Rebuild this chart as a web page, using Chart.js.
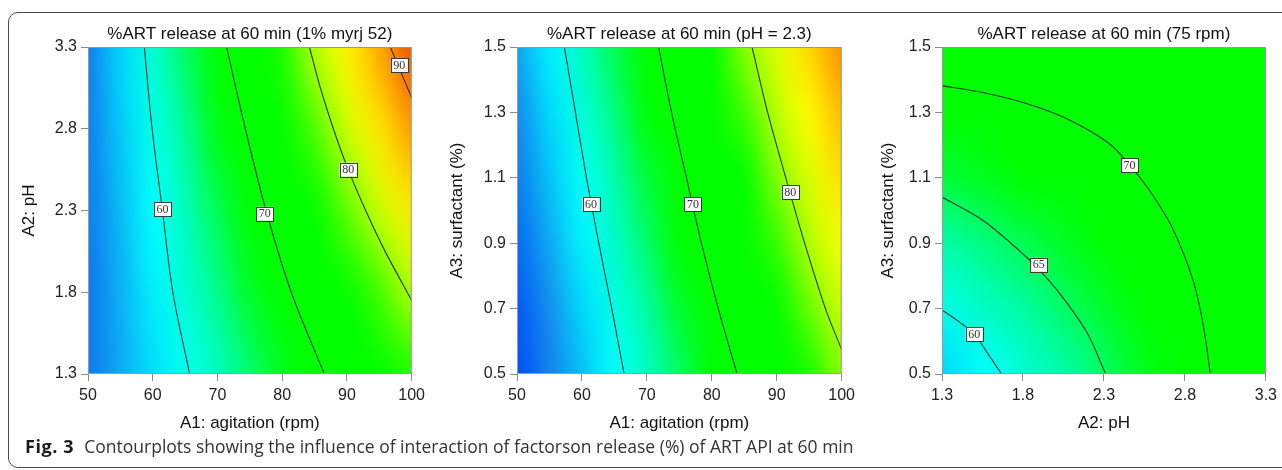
<!DOCTYPE html>
<html>
<head>
<meta charset="utf-8">
<script src="https://cdn.jsdelivr.net/npm/chart.js@4.4.0/dist/chart.umd.min.js"></script>
<style>
  html, body { margin: 0; padding: 0; background: #fff; }
  body { width: 1282px; height: 470px; position: relative; overflow: hidden; }
  #frame { position: absolute; left: 8px; top: 12px; width: 1300px; height: 456px; border: 1px solid #4a4a4a; border-radius: 10px; box-sizing: border-box; }
  canvas { position: absolute; top: 0; }
  #caption { position: absolute; left: 25px; top: 435px; line-height: 22px; font-family: "Open Sans", sans-serif; font-size: 17.5px; color: #333; white-space: nowrap; }
  #caption b { font-size: 18px; letter-spacing: 0.6px; color: #1b1b1b; margin-right: 10px; }
</style>
</head>
<body>
<div id="frame"></div>
<canvas id="p1" width="430" height="470" style="left:0px"></canvas>
<canvas id="p2" width="430" height="470" style="left:430px"></canvas>
<canvas id="p3" width="422" height="470" style="left:860px"></canvas>
<div id="caption"><b>Fig. 3</b>Contourplots showing the influence of interaction of factorson release (%) of ART API at 60 min</div>
<script>
// ---- panel 1: agitation vs pH ----
const p1X = [50, 55, 60, 65, 70, 75, 80, 85, 90, 95, 100];
const p1Y = [1.3, 1.8, 2.3, 2.8, 3.3];
const p1Z = [
  [52.9, 55.2, 57.5, 59.7, 62.1, 64.5, 66.9, 69.3, 71.7, 74.2, 76.7],
  [52.8, 55.5, 58.3, 61.0, 63.8, 66.5, 69.2, 72.0, 74.8, 77.6, 80.4],
  [53.1, 56.0, 59.1, 62.2, 65.3, 68.4, 71.6, 74.9, 78.3, 81.6, 85.0],
  [53.3, 56.6, 60.1, 63.5, 67.0, 70.5, 74.0, 77.9, 81.8, 85.3, 89.0],
  [53.2, 57.1, 61.0, 64.9, 68.9, 72.8, 76.7, 80.6, 84.6, 88.6, 92.6]
];
const p1XTicks = [50, 60, 70, 80, 90, 100];
const p1YTicks = [1.3, 1.8, 2.3, 2.8, 3.3];
const p1Lines = [
  {x: [58.7, 59.9, 61.5, 63.1, 65.7], y: [3.3, 2.8, 2.3, 1.8, 1.3]},
  {x: [71.4, 74.3, 77.5, 81.4, 86.5], y: [3.3, 2.8, 2.3, 1.8, 1.3]},
  {x: [84.2, 85.9, 87.9, 90.2, 92.9, 95.9, 100], y: [3.3, 3.05, 2.8, 2.55, 2.3, 2.05, 1.75]},
  {x: [96.7, 98.3, 100], y: [3.3, 3.15, 2.99]}
];
const p1Labels = [
  {x: 61.5, y: 2.31, t: '60'}, {x: 77.3, y: 2.28, t: '70'},
  {x: 90.2, y: 2.55, t: '80'}, {x: 98.1, y: 3.19, t: '90'}
];

// ---- panel 2: agitation vs surfactant ----
const p2X = [50, 55, 60, 65, 70, 75, 80, 85, 90, 95, 100];
const p2Y = [0.5, 0.7, 0.9, 1.1, 1.3, 1.5];
const p2Z = [
  [50.5, 53.4, 56.2, 59.1, 62.0, 64.9, 67.8, 70.7, 73.6, 76.5, 79.3],
  [51.1, 54.1, 57.2, 60.2, 63.3, 66.3, 69.4, 72.4, 75.5, 78.5, 81.5],
  [52.0, 55.2, 58.4, 61.5, 64.7, 67.8, 71.0, 74.2, 77.3, 80.5, 83.6],
  [53.1, 56.3, 59.5, 62.8, 66.0, 69.3, 72.5, 75.8, 79.1, 82.3, 85.6],
  [53.9, 57.3, 60.7, 64.1, 67.4, 70.8, 74.2, 77.5, 80.9, 84.3, 87.7],
  [55.0, 58.4, 61.9, 65.3, 68.8, 72.2, 75.7, 79.2, 82.6, 86.1, 89.6]
];
const p2XTicks = [50, 60, 70, 80, 90, 100];
const p2YTicks = [0.5, 0.7, 0.9, 1.1, 1.3, 1.5];
const p2Lines = [
  {x: [57.3, 59.0, 60.7, 62.6, 64.6, 66.5], y: [1.5, 1.3, 1.1, 0.9, 0.7, 0.5]},
  {x: [71.8, 73.8, 76.1, 78.4, 81.0, 83.9], y: [1.5, 1.3, 1.1, 0.9, 0.7, 0.5]},
  {x: [86.2, 88.6, 91.4, 94.3, 97.5, 100], y: [1.5, 1.3, 1.1, 0.9, 0.7, 0.574]}
];
const p2Labels = [
  {x: 61.4, y: 1.02, t: '60'}, {x: 77.1, y: 1.02, t: '70'}, {x: 92.1, y: 1.056, t: '80'}
];

// ---- panel 3: pH vs surfactant ----
const p3X = [1.3, 1.55, 1.8, 2.05, 2.3, 2.55, 2.8, 3.05, 3.3];
const p3Y = [0.5, 0.7, 0.9, 1.1, 1.3, 1.5];
const p3Z = [
  [57.1, 59.0, 61.0, 62.9, 64.9, 66.8, 68.7, 70.7, 72.6],
  [60.0, 61.6, 63.2, 64.8, 66.3, 67.8, 69.3, 70.8, 72.2],
  [62.9, 64.1, 65.3, 66.5, 67.7, 68.9, 70.0, 71.0, 71.9],
  [65.9, 66.7, 67.5, 68.3, 69.1, 69.9, 70.6, 71.2, 71.7],
  [68.8, 69.3, 69.8, 70.2, 70.5, 70.8, 71.0, 71.2, 71.4],
  [71.7, 71.8, 71.8, 71.8, 71.7, 71.6, 71.5, 71.4, 71.3]
];
const p3XTicks = [1.3, 1.8, 2.3, 2.8, 3.3];
const p3YTicks = [0.5, 0.7, 0.9, 1.1, 1.3, 1.5];
const p3Lines = [
  {x: [1.3, 1.41, 1.5, 1.59, 1.668], y: [0.696, 0.658, 0.622, 0.557, 0.5]},
  {x: [1.3, 1.558, 1.816, 1.945, 2.074, 2.203, 2.31], y: [1.041, 0.968, 0.86, 0.795, 0.716, 0.62, 0.5]},
  {x: [1.3, 1.558, 1.816, 2.074, 2.332, 2.461, 2.59, 2.719, 2.848, 2.913, 2.957],
   y: [1.382, 1.36, 1.328, 1.28, 1.205, 1.138, 1.055, 0.95, 0.79, 0.65, 0.5]}
];
const p3Labels = [
  {x: 1.499, y: 0.622, t: '60'}, {x: 1.898, y: 0.834, t: '65'}, {x: 2.458, y: 1.138, t: '70'}
];

// colour ramp (response value -> rgb), blue .. cyan .. green .. yellow .. red
const rampStops = [
  [49, [0, 55, 240]], [51, [0, 90, 245]], [54, [22, 140, 236]], [57, [0, 212, 250]],
  [59, [0, 255, 255]], [63, [0, 252, 170]], [67.5, [0, 255, 0]], [76, [0, 255, 0]],
  [80, [165, 255, 0]], [84, [255, 255, 0]], [88, [255, 182, 0]], [91, [246, 112, 0]],
  [94, [234, 56, 10]]
];

function rampColour(v) {
  if (v <= rampStops[0][0]) return rampStops[0][1];
  for (let i = 1; i < rampStops.length; i++) {
    if (v <= rampStops[i][0]) {
      const [v0, c0] = rampStops[i - 1], [v1, c1] = rampStops[i];
      const f = (v - v0) / (v1 - v0);
      return c0.map((c, k) => c + (c1[k] - c) * f);
    }
  }
  return rampStops[rampStops.length - 1][1];
}

// filled surface under the contour lines
const surfacePlugin = {
  id: 'surface',
  beforeDatasetsDraw(chart, args, opts) {
    const {ctx, chartArea: a} = chart;
    const xs = opts.xs, ys = opts.ys, zs = opts.zs;
    const nx = xs.length, ny = ys.length;
    const off = document.createElement('canvas');
    off.width = nx; off.height = ny;
    const octx = off.getContext('2d');
    const img = octx.createImageData(nx, ny);
    for (let j = 0; j < ny; j++) {
      for (let i = 0; i < nx; i++) {
        const c = rampColour(zs[j][i]);
        const k = ((ny - 1 - j) * nx + i) * 4; // row 0 = bottom
        img.data[k] = c[0]; img.data[k + 1] = c[1]; img.data[k + 2] = c[2]; img.data[k + 3] = 255;
      }
    }
    octx.putImageData(img, 0, 0);
    const sx = chart.scales.x, sy = chart.scales.y;
    const x0 = sx.getPixelForValue(xs[0]), x1 = sx.getPixelForValue(xs[nx - 1]);
    const y0 = sy.getPixelForValue(ys[ny - 1]), y1 = sy.getPixelForValue(ys[0]);
    const dx = (x1 - x0) / (nx - 1), dy = (y1 - y0) / (ny - 1);
    ctx.save();
    ctx.beginPath();
    ctx.rect(a.left, a.top, a.right - a.left, a.bottom - a.top);
    ctx.clip();
    ctx.imageSmoothingEnabled = true;
    ctx.imageSmoothingQuality = 'high';
    ctx.drawImage(off, x0 - dx / 2, y0 - dy / 2, x1 - x0 + dx, y1 - y0 + dy);
    ctx.restore();
  },
  afterDatasetsDraw(chart, args, opts) {
    const {ctx, chartArea: a} = chart;
    const sx = chart.scales.x, sy = chart.scales.y;
    ctx.save();
    ctx.font = '12px "Liberation Serif", serif';
    ctx.textAlign = 'center';
    ctx.textBaseline = 'middle';
    opts.labels.forEach(l => {
      const px = sx.getPixelForValue(l.x), py = sy.getPixelForValue(l.y);
      const w = 17, h = 14;
      ctx.fillStyle = '#fff';
      ctx.fillRect(px - w / 2, py - h / 2, w, h);
      ctx.strokeStyle = '#3a3a3a';
      ctx.lineWidth = 1;
      ctx.strokeRect(Math.round(px - w / 2) + 0.5, Math.round(py - h / 2) + 0.5, w, h);
      ctx.fillStyle = '#333';
      ctx.fillText(l.t, px, py + 0.5);
    });
    // plot frame
    ctx.strokeStyle = '#9a9a9a';
    ctx.lineWidth = 1;
    ctx.strokeRect(a.left + 0.5, a.top + 0.5, a.right - a.left - 1, a.bottom - a.top - 1);
    ctx.restore();
  }
};

function makePanel(id, cfg) {
  const datasets = cfg.lines.map(l => ({
    data: l.x.map((v, i) => ({x: v, y: l.y[i]})),
    showLine: true,
    borderColor: 'rgba(25,35,35,0.9)',
    borderWidth: 1.1,
    pointRadius: 0,
    tension: 0.3
  }));
  const tickFont = {family: '"Liberation Sans", Arial, sans-serif', size: 16};
  const titleFont = {family: '"Liberation Sans", Arial, sans-serif', size: 17, weight: 'normal'};
  return new Chart(document.getElementById(id), {
    type: 'scatter',
    data: {datasets},
    options: {
      responsive: false,
      animation: false,
      devicePixelRatio: 1,
      layout: {padding: {left: cfg.padLeft, right: 15, top: 0, bottom: 36}},
      plugins: {
        legend: {display: false},
        tooltip: {enabled: false},
        title: {
          display: true, text: cfg.title, fullSize: false, color: '#111',
          font: titleFont, padding: {top: 24, bottom: 2.6}
        },
        surface: {xs: cfg.xs, ys: cfg.ys, zs: cfg.zs, labels: cfg.labels}
      },
      scales: {
        x: {
          type: 'linear', min: cfg.xs[0], max: cfg.xs[cfg.xs.length - 1],
          afterBuildTicks: s => { s.ticks = cfg.xTicks.map(v => ({value: v})); },
          afterFit: s => { s.height = 60; },
          grid: {drawOnChartArea: false, drawTicks: true, tickLength: 7, tickColor: '#8a8a8a'},
          border: {display: false},
          ticks: {font: tickFont, color: '#222', padding: 5, maxRotation: 0,
                  callback: v => cfg.xFmt(v)},
          title: {display: true, text: cfg.xTitle, font: titleFont, color: '#111', padding: 0}
        },
        y: {
          type: 'linear', min: cfg.ys[0], max: cfg.ys[cfg.ys.length - 1],
          afterBuildTicks: s => { s.ticks = cfg.yTicks.map(v => ({value: v})); },
          afterFit: s => { s.width = cfg.yWidth; },
          grid: {drawOnChartArea: false, drawTicks: true, tickLength: 7, tickColor: '#8a8a8a'},
          border: {display: false},
          ticks: {font: tickFont, color: '#222', padding: 4, callback: v => v.toFixed(1)},
          title: {display: true, text: cfg.yTitle, font: titleFont, color: '#111', padding: 0}
        }
      }
    },
    plugins: [surfacePlugin]
  });
}

makePanel('p1', {
  title: '%ART release at 60 min (1% myrj 52)', xTitle: 'A1: agitation (rpm)', yTitle: 'A2: pH',
  xs: p1X, ys: p1Y, zs: p1Z, xTicks: p1XTicks, yTicks: p1YTicks,
  lines: p1Lines, labels: p1Labels, padLeft: 19, yWidth: 69, xFmt: v => String(v)
});
makePanel('p2', {
  title: '%ART release at 60 min (pH = 2.3)', xTitle: 'A1: agitation (rpm)', yTitle: 'A3: surfactant (%)',
  xs: p2X, ys: p2Y, zs: p2Z, xTicks: p2XTicks, yTicks: p2YTicks,
  lines: p2Lines, labels: p2Labels, padLeft: 17, yWidth: 70, xFmt: v => String(v)
});
makePanel('p3', {
  title: '%ART release at 60 min (75 rpm)', xTitle: 'A2: pH', yTitle: 'A3: surfactant (%)',
  xs: p3X, ys: p3Y, zs: p3Z, xTicks: p3XTicks, yTicks: p3YTicks,
  lines: p3Lines, labels: p3Labels, padLeft: 18, yWidth: 64, xFmt: v => v.toFixed(1)
});
</script>
</body>
</html>
